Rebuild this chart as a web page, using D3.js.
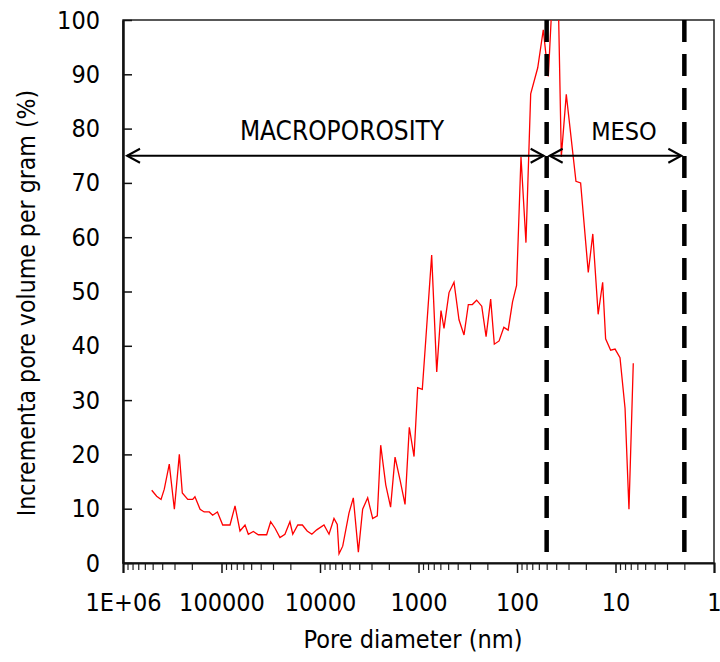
<!DOCTYPE html>
<html lang="en">
<head>
<meta charset="UTF-8">
<title>Pore size distribution</title>
<script src="https://cdn.jsdelivr.net/npm/d3@7"></script>
<style>
  body { margin: 0; background: #fff; }
  text { font-family: "DejaVu Sans Condensed", "DejaVu Sans", sans-serif; font-stretch: condensed; fill: #000; }
</style>
</head>
<body>
<script>
// pore diameter (nm)
const diameter = [511000, 455000, 411000, 381000, 339000, 301000, 268000, 250000, 220000, 196000,
  186000, 165000, 150000, 133000, 123000, 110000, 97200, 82000, 72900, 64900,
  57700, 53400, 47500, 42300, 34800, 31700, 28600, 25500, 22700, 20200,
  18900, 16800, 15100, 13500, 12100, 10800, 9110, 8100, 7210, 6680,
  6410, 5880, 5080, 4590, 4080, 3690, 3280, 2920, 2620, 2420,
  2150, 1920, 1730, 1540, 1370, 1240, 1110, 1020, 915, 839,
  735, 653, 591, 551, 490, 436, 388, 345, 312, 284,
  257, 228, 206, 185, 170, 152, 136, 123, 111, 101,
  91.1, 81.1, 72.6, 61.6, 54.1, 48.1, 42.8, 38.1, 35.5, 31.6,
  25.2, 22.6, 18.9, 17.0, 15.0, 13.5, 12.6, 11.2, 10.1, 9.0,
  8.0, 7.3, 6.6];
// incremental pore volume per gram (%)
const volume = [13.4, 12.3, 11.7, 13.6, 18.2, 9.9, 20.0, 12.9, 11.7, 11.7,
  12.2, 9.9, 9.4, 9.4, 8.8, 9.4, 7.0, 7.0, 10.5, 5.9,
  7.0, 5.3, 5.8, 5.2, 5.2, 7.6, 6.4, 4.7, 5.3, 7.6,
  5.3, 7.0, 7.0, 5.9, 5.3, 6.1, 7.0, 5.3, 8.2, 7.1,
  1.7, 3.1, 9.2, 12.0, 2.0, 9.9, 12.0, 8.2, 8.7, 21.7,
  14.4, 10.3, 19.5, 15.3, 10.8, 25.0, 19.6, 32.3, 32.0, 41.7,
  56.7, 35.2, 46.5, 43.2, 49.8, 51.7, 44.8, 42.0, 47.6, 47.6,
  48.4, 47.3, 41.7, 48.6, 40.3, 40.9, 43.4, 42.9, 48.1, 51.1,
  74.8, 59.0, 86.4, 91.2, 98.2, 89.6, 108, 104, 74.8, 86.3,
  70.3, 70.0, 53.5, 60.6, 45.8, 51.7, 41.3, 39.2, 39.4, 37.8,
  28.5, 9.9, 36.8];

const xTicks = [1e6, 1e5, 1e4, 1e3, 100, 10, 1];
const yTicks = [0, 10, 20, 30, 40, 50, 60, 70, 80, 90, 100];
const boundaries = [50, 2];           // macro/meso and meso/micro limits (nm)
const regionNames = ["MACROPOROSITY", "MESO"];
const regionFrom = [1e6, 50];
const regionTo = [50, 2];
const arrowLevel = 75;

const width = 720, height = 662;
const svg = d3.select("body").append("svg")
  .attr("width", width)
  .attr("height", height);

const x = d3.scaleLog().domain([1e6, 1]).range([123, 714]);
const y = d3.scaleLinear().domain([0, 100]).range([563, 20]);

// frame
svg.append("rect")
  .attr("x", x(1e6)).attr("y", y(100))
  .attr("width", x(1) - x(1e6)).attr("height", y(0) - y(100))
  .attr("fill", "none").attr("stroke", "#222").attr("stroke-width", 1.5);

// minor ticks on x
const minor = [];
for (let e = 0; e < 6; e++) for (let k = 2; k <= 9; k++) minor.push(k * Math.pow(10, e));
svg.append("g")
  .attr("transform", `translate(0,${y(0)})`)
  .call(d3.axisBottom(x).tickValues(minor).tickSize(7).tickFormat(""))
  .call(g => g.select(".domain").remove())
  .selectAll("line").attr("stroke", "#222").attr("stroke-width", 1.2);

// x axis
svg.append("g")
  .attr("transform", `translate(0,${y(0)})`)
  .call(d3.axisBottom(x).tickValues(xTicks).tickSize(10).tickPadding(20)
    .tickFormat(d => d === 1e6 ? "1E+06" : d3.format("d")(d)))
  .call(g => g.select(".domain").attr("stroke", "#111").attr("stroke-width", 2))
  .call(g => g.selectAll("line").attr("stroke", "#111").attr("stroke-width", 1.5))
  .call(g => g.selectAll("text").attr("font-size", 25).attr("font-family", null));

// y axis
svg.append("g")
  .attr("transform", `translate(${x(1e6)},0)`)
  .call(d3.axisLeft(y).tickValues(yTicks).tickSizeInner(-9).tickSizeOuter(0).tickPadding(23))
  .call(g => g.select(".domain").attr("stroke", "#111").attr("stroke-width", 2.5))
  .call(g => g.selectAll("line").attr("stroke", "#111").attr("stroke-width", 1.5))
  .call(g => g.selectAll("text").attr("font-size", 25).attr("font-family", null));

// axis titles
svg.append("text")
  .attr("x", 413).attr("y", 648)
  .attr("text-anchor", "middle")
  .attr("font-size", 25)
  .text("Pore diameter (nm)");

svg.append("text")
  .attr("transform", "translate(35,303) rotate(-90)")
  .attr("text-anchor", "middle")
  .attr("font-size", 24.6)
  .text("Incrementa pore volume per gram (%)");

// clipped data line
svg.append("clipPath").attr("id", "plot")
  .append("rect")
  .attr("x", x(1e6)).attr("y", y(100))
  .attr("width", x(1) - x(1e6)).attr("height", y(0) - y(100));

const points = diameter.map((d, i) => [d, volume[i]]);
svg.append("path")
  .datum(points)
  .attr("clip-path", "url(#plot)")
  .attr("fill", "none")
  .attr("stroke", "#ff0000")
  .attr("stroke-width", 1.3)
  .attr("d", d3.line().x(d => x(d[0])).y(d => y(d[1])));

// dashed boundaries
svg.selectAll(".bound")
  .data(boundaries)
  .join("line")
  .attr("class", "bound")
  .attr("x1", d => x(d)).attr("x2", d => x(d))
  .attr("y1", y(100)).attr("y2", y(0))
  .attr("stroke", "#000")
  .attr("stroke-width", 4.5)
  .attr("stroke-dasharray", "22,12");

// region arrows
const ay = y(arrowLevel);
regionNames.forEach((name, i) => {
  const x1 = x(regionFrom[i]) + (i === 0 ? 4 : 3);
  const x2 = x(regionTo[i]) - 3;
  const g = svg.append("g").attr("stroke", "#000").attr("stroke-width", 2).attr("fill", "none");
  g.append("line").attr("x1", x1).attr("x2", x2).attr("y1", ay).attr("y2", ay);
  g.append("path").attr("d", `M${x1 + 13},${ay - 7}L${x1},${ay}L${x1 + 13},${ay + 7}`);
  g.append("path").attr("d", `M${x2 - 13},${ay - 7}L${x2},${ay}L${x2 - 13},${ay + 7}`);
  svg.append("text")
    .attr("x", i === 0 ? 342 : 624).attr("y", 140)
    .attr("text-anchor", "middle")
    .attr("font-size", i === 0 ? 26 : 25)
    .text(name);
});
</script>
</body>
</html>
